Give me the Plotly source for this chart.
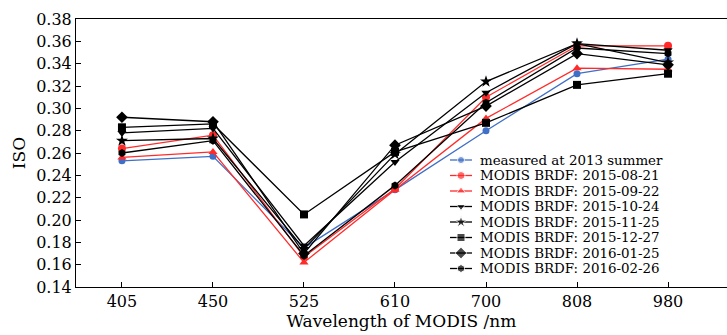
import plotly.graph_objects as go

wavelengths = ["405", "450", "525", "610", "700", "808", "980"]
xpos = [1, 2, 3, 4, 5, 6, 7]

measured_2013 = [0.253, 0.257, 0.175, 0.227, 0.280, 0.331, 0.344]
brdf_20150821 = [0.264, 0.276, 0.167, 0.228, 0.310, 0.356, 0.356]
brdf_20150922 = [0.256, 0.261, 0.162, 0.227, 0.291, 0.336, 0.335]
brdf_20151024 = [0.278, 0.282, 0.177, 0.252, 0.314, 0.358, 0.352]
brdf_20151125 = [0.271, 0.273, 0.174, 0.259, 0.324, 0.358, 0.341]
brdf_20151227 = [0.283, 0.286, 0.205, 0.261, 0.287, 0.321, 0.331]
brdf_20160125 = [0.292, 0.288, 0.170, 0.267, 0.302, 0.349, 0.339]
brdf_20160226 = [0.260, 0.271, 0.168, 0.231, 0.305, 0.354, 0.349]

series = [
    ("measured at 2013 summer", measured_2013, "#3f6fc6", "circle", 7),
    ("MODIS BRDF: 2015-08-21", brdf_20150821, "#ff2b2b", "circle", 8),
    ("MODIS BRDF: 2015-09-22", brdf_20150922, "#ff2b2b", "triangle-up", 8),
    ("MODIS BRDF: 2015-10-24", brdf_20151024, "#000000", "triangle-down", 8),
    ("MODIS BRDF: 2015-11-25", brdf_20151125, "#000000", "star", 9),
    ("MODIS BRDF: 2015-12-27", brdf_20151227, "#000000", "square", 8),
    ("MODIS BRDF: 2016-01-25", brdf_20160125, "#000000", "diamond", 9),
    ("MODIS BRDF: 2016-02-26", brdf_20160226, "#000000", "hexagon", 8),
]

# layout geometry (pixels)
W, H = 727, 335
ML, MR, MT, MB = 76, 0, 19, 48
plot_w = W - ML - MR
plot_h = H - MT - MB

fig = go.Figure()
for name, vals, color, sym, sz in series:
    fig.add_trace(go.Scatter(
        x=xpos, y=vals, name=name, mode="lines+markers",
        line=dict(color=color, width=1.3),
        marker=dict(symbol=sym, size=sz, color=color),
        showlegend=False,
    ))

# custom legend (compact row spacing) drawn on a hidden overlay axis in [0,1]
font_family = "DejaVu Serif"
leg_x0_px, leg_x1_px, leg_text_px = 450, 472, 478
leg_row0_px, leg_dy_px = 160, 15.5
annotations = []
for i, (name, vals, color, sym, sz) in enumerate(series):
    py = leg_row0_px + i * leg_dy_px
    yy = (H - MB - py) / plot_h
    xa = (leg_x0_px - ML) / plot_w
    xb = (leg_x1_px - ML) / plot_w
    xm = (xa + xb) / 2
    fig.add_trace(go.Scatter(
        x=[xa, xm, xb], y=[yy, yy, yy], mode="lines+markers",
        xaxis="x2", yaxis="y2", showlegend=False, hoverinfo="skip",
        line=dict(color=color, width=1.3),
        marker=dict(symbol=sym, size=[0, sz, 0], color=color),
    ))
    annotations.append(dict(
        x=(leg_text_px - ML) / plot_w, y=yy, xref="x2", yref="y2",
        text=name, showarrow=False, xanchor="left", yanchor="middle",
        font=dict(size=13.4, family=font_family, color="black"),
    ))

fig.update_layout(
    width=W, height=H,
    margin=dict(l=ML, r=MR, t=MT, b=MB),
    plot_bgcolor="white", paper_bgcolor="white",
    font=dict(family=font_family, color="black", size=16),
    showlegend=False,
    annotations=annotations,
    xaxis=dict(
        range=[0.495, 7.648], tickvals=xpos, ticktext=wavelengths,
        showgrid=False, zeroline=False, showline=True, linecolor="black", linewidth=1,
        mirror=True, ticks="inside", ticklen=5, tickcolor="black",
        title=dict(text="Wavelength of MODIS /nm", standoff=4, font=dict(size=17)),
        tickfont=dict(size=16),
    ),
    yaxis=dict(
        range=[0.14, 0.38], dtick=0.02, tickformat=".2f",
        showgrid=False, zeroline=False, showline=True, linecolor="black", linewidth=1,
        ticks="inside", ticklen=5, tickcolor="black",
        title=dict(text="ISO", standoff=6, font=dict(size=17)),
        tickfont=dict(size=16),
    ),
    xaxis2=dict(range=[0, 1], overlaying="x", visible=False, anchor="y2"),
    yaxis2=dict(range=[0, 1], overlaying="y", visible=False, anchor="x2"),
)

fig.write_html("out.html")
